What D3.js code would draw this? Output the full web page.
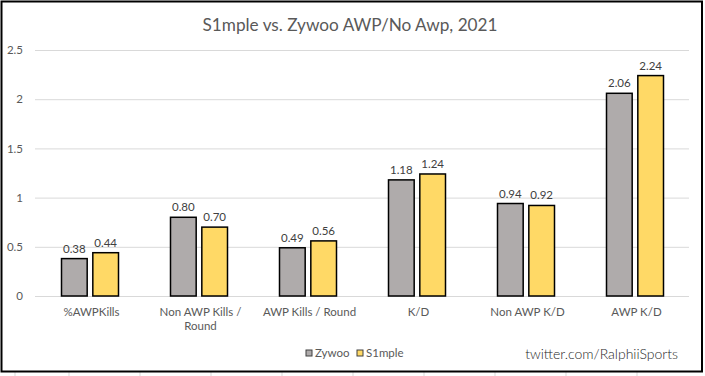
<!DOCTYPE html>
<html>
<head>
<meta charset="utf-8">
<script src="https://cdn.jsdelivr.net/npm/d3@7"></script>
<style>
  body { margin: 0; background: #fff; }
  text { font-family: Lato, "Open Sans", sans-serif; }
</style>
</head>
<body>
<div id="chart"></div>
<script>
// values
var categories = ["%AWPKills", "Non AWP Kills / Round", "AWP Kills / Round", "K/D", "Non AWP K/D", "AWP K/D"];
var series = ["Zywoo", "S1mple"];
var zywoo = [0.38, 0.80, 0.49, 1.18, 0.94, 2.06];
var s1mple = [0.44, 0.70, 0.56, 1.24, 0.92, 2.24];
var yTicks = [0, 0.5, 1, 1.5, 2, 2.5];
var colors = {"Zywoo": "#afabab", "S1mple": "#ffd966"};

var W = 705, H = 376;
var margin = {top: 50, right: 16, bottom: 80, left: 35};
var width = W - margin.left - margin.right,
    height = H - margin.top - margin.bottom;

var svg = d3.select("#chart").append("svg")
  .attr("width", W)
  .attr("height", H);

// faint spreadsheet cells behind the chart object
var cellX = [15, 69, 140, 211, 282, 353, 424, 495, 566, 637];
svg.selectAll("cellline")
  .data(cellX)
  .enter().append("line")
    .attr("x1", d => d).attr("x2", d => d)
    .attr("y1", 372).attr("y2", H)
    .attr("stroke", "#d9d9d9");

svg.append("rect")
  .attr("x", 1.5).attr("y", 1.5)
  .attr("width", 700.5).attr("height", 370)
  .attr("fill", "#fff")
  .attr("stroke", "#000")
  .attr("stroke-width", 2);

svg.append("text")
  .attr("x", 350)
  .attr("y", 31)
  .attr("text-anchor", "middle")
  .style("font-size", "17.2px")
  .style("fill", "#595959")
  .text("S1mple vs. Zywoo AWP/No Awp, 2021");

var g = svg.append("g")
  .attr("transform", "translate(" + margin.left + "," + margin.top + ")");

var x = d3.scaleBand()
  .domain(categories)
  .range([0, width]);

var x1 = d3.scaleBand()
  .domain(series)
  .range([x.bandwidth() / 2 - 28, x.bandwidth() / 2 + 29])
  .paddingInner(0.18);

var y = d3.scaleLinear()
  .domain([0, 2.5])
  .range([height, 0]);

// gridlines + y labels
var yAxis = g.append("g")
  .call(d3.axisLeft(y).tickValues(yTicks).tickSize(-width).tickFormat(d => d))
  .call(a => a.select(".domain").remove());
yAxis.selectAll(".tick line").attr("stroke", "#d9d9d9");
yAxis.selectAll(".tick text")
  .attr("x", -12)
  .style("font-size", "11.5px")
  .style("fill", "#595959");

// category labels
var xAxis = g.append("g")
  .attr("transform", "translate(0," + height + ")")
  .call(d3.axisBottom(x).tickSize(0).tickFormat(""))
  .call(a => a.select(".domain").remove());

var wrapped = {"Non AWP Kills / Round": ["Non AWP Kills /", "Round"]};
categories.forEach(function(c) {
  var lines = wrapped[c] || [c];
  var t = g.append("text")
    .attr("x", x(c) + x.bandwidth() / 2 + 2)
    .attr("y", height + 20)
    .attr("text-anchor", "middle")
    .style("font-size", "11.5px")
    .style("fill", "#595959");
  lines.forEach(function(l, i) {
    t.append("tspan")
      .attr("x", x(c) + x.bandwidth() / 2 + 2)
      .attr("dy", i == 0 ? 0 : 14)
      .text(l);
  });
});

var rows = categories.map(function(c, i) {
  return {cat: c, values: [{s: "Zywoo", v: zywoo[i]}, {s: "S1mple", v: s1mple[i]}]};
});

var groups = g.selectAll("g.cat")
  .data(rows)
  .enter().append("g")
    .attr("class", "cat")
    .attr("transform", d => "translate(" + x(d.cat) + ",0)");

groups.selectAll("rect")
  .data(d => d.values)
  .enter().append("rect")
    .attr("x", d => x1(d.s))
    .attr("y", d => y(d.v))
    .attr("width", x1.bandwidth())
    .attr("height", d => height - y(d.v))
    .attr("fill", d => colors[d.s])
    .attr("stroke", "#000")
    .attr("stroke-width", 1.5);

groups.selectAll("text.val")
  .data(d => d.values)
  .enter().append("text")
    .attr("class", "val")
    .attr("x", d => x1(d.s) + x1.bandwidth() / 2)
    .attr("y", d => y(d.v) - 6)
    .attr("text-anchor", "middle")
    .style("font-size", "11.5px")
    .style("fill", "#404040")
    .text(d => d.v.toFixed(2));

// legend
var legendX = [306, 357];
series.forEach(function(s, i) {
  svg.append("rect")
    .attr("x", legendX[i]).attr("y", 350)
    .attr("width", 6).attr("height", 6)
    .attr("fill", colors[s])
    .attr("stroke", "#404040");
  svg.append("text")
    .attr("x", legendX[i] + 9).attr("y", 357)
    .style("font-size", "11.5px")
    .style("fill", "#595959")
    .text(s);
});

svg.append("text")
  .attr("x", 678)
  .attr("y", 359)
  .attr("text-anchor", "end")
  .style("font-size", "14px")
  .style("font-weight", 300)
  .style("fill", "#262626")
  .text("twitter.com/RalphiiSports");
</script>
</body>
</html>
